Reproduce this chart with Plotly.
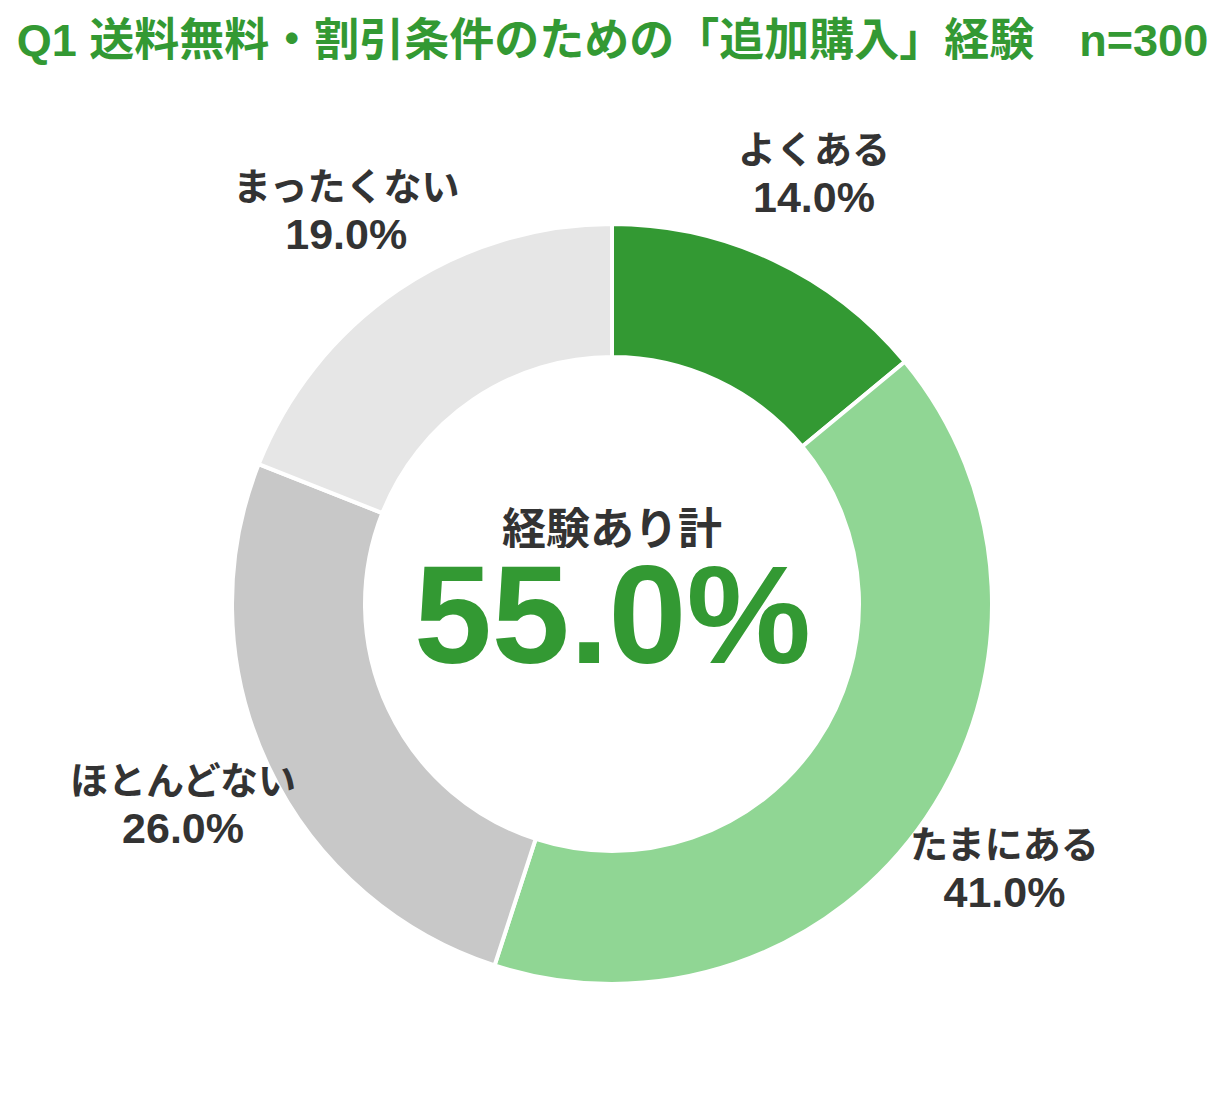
import math
import plotly.graph_objects as go

categories = ["よくある", "たまにある", "ほとんどない", "まったくない"]
values = [14.0, 41.0, 26.0, 19.0]
colors = ["#339933", "#90D694", "#C8C8C8", "#E6E6E6"]
title_text = "Q1 送料無料・割引条件のための「追加購入」経験　n=300"
center_label = "経験あり計"
center_value = "55.0%"

W, H = 1225, 1102
cx, cy, R = 612, 604, 380  # pixel centre / radius of donut
dom_x = [(cx - R) / W, (cx + R) / W]
dom_y = [(H - cy - R) / H, (H - cy + R) / H]

JP = "Noto Sans CJK JP"
LAT = "Liberation Sans, Noto Sans CJK JP"

fig = go.Figure(go.Pie(
    labels=categories,
    values=values,
    hole=0.65,
    sort=False,
    direction="clockwise",
    rotation=0,
    marker=dict(colors=colors, line=dict(color="white", width=4)),
    textinfo="none",
    hoverinfo="label+percent",
    domain=dict(x=dom_x, y=dom_y),
    showlegend=False,
))

annotations = []
total = sum(values)
cum = 0.0
label_r = 474
for cat, v in zip(categories, values):
    mid = (cum + v / 2) / total * 2 * math.pi
    cum += v
    px = cx + label_r * math.sin(mid)
    py = cy - label_r * math.cos(mid)
    annotations.append(dict(
        x=px / W, y=1 - py / H, xref="paper", yref="paper",
        text=f"<b>{cat}</b><br><span style='font-size:43px'><b>{v:.1f}%</b></span>",
        showarrow=False, xanchor="center", yanchor="middle",
        font=dict(family=LAT, size=38, color="#333333"), align="center",
    ))

annotations.append(dict(
    x=cx / W, y=1 - 526 / H, xref="paper", yref="paper",
    text=f"<b>{center_label}</b>", showarrow=False,
    xanchor="center", yanchor="middle", height=44,
    font=dict(family=JP, size=44, color="#333333"),
))
annotations.append(dict(
    x=cx / W, y=1 - 614 / H, xref="paper", yref="paper",
    text=f"<b>{center_value}</b>", showarrow=False,
    xanchor="center", yanchor="middle", height=104,
    font=dict(family=LAT, size=140, color="#339933"),
))

fig.update_layout(
    width=W, height=H,
    margin=dict(l=0, r=0, t=0, b=0),
    paper_bgcolor="white", plot_bgcolor="white",
    title=dict(
        text=f"<b>{title_text}</b>", x=0.5, xanchor="center",
        y=1 - 40 / H, yanchor="middle",
        font=dict(family=LAT, size=45, color="#339933"),
    ),
    annotations=annotations,
)

fig.write_html("out.html", config={"displayModeBar": False},
               post_script="document.body.style.margin='0';")
